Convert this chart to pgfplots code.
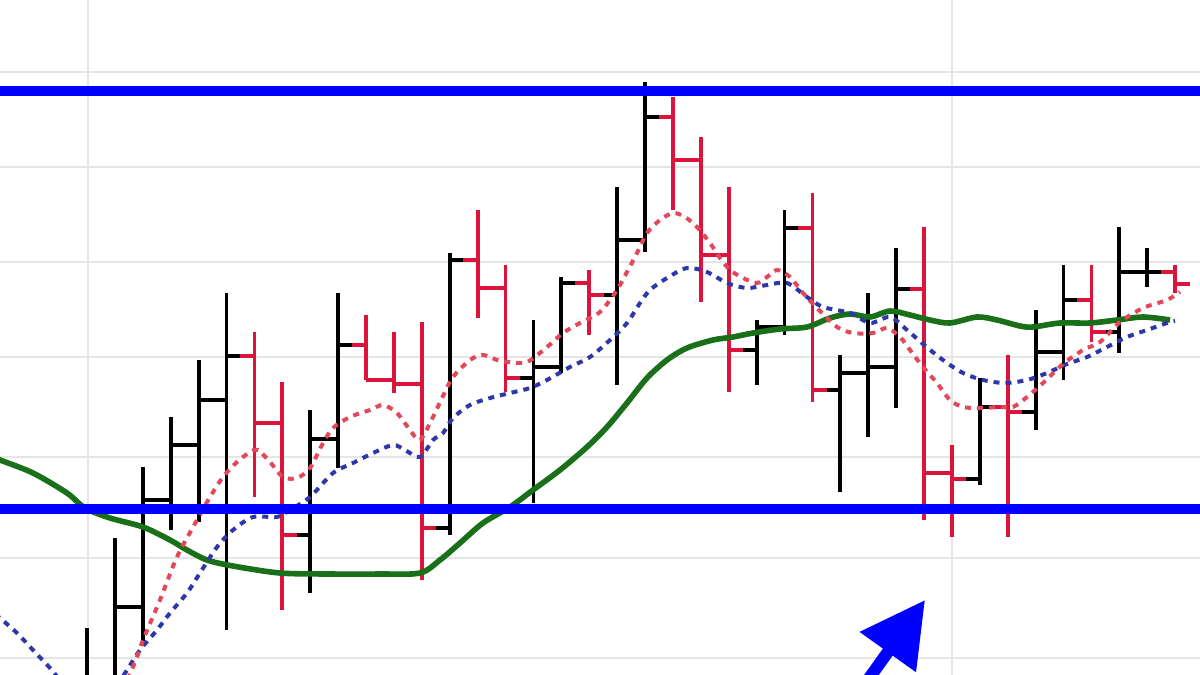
\documentclass[border=0pt]{standalone}
\usepackage{pgfplots}
\pgfplotsset{compat=1.18}
\usepackage{pgfplotstable}
\usetikzlibrary{arrows.meta}
\definecolor{barred}{RGB}{220,20,60}
\definecolor{mared}{RGB}{228,70,90}
\definecolor{mablue}{RGB}{45,55,170}
\definecolor{magreen}{RGB}{25,112,25}
\definecolor{hblue}{RGB}{0,0,255}

% OHLC bars (x position, open, high, low, close); y axis runs downward
\pgfplotstableread{
x o h l c
87.0 700 628 720 690
114.9 700 538 720 607
142.8 607 467 642 500
170.7 500 417 530 445
198.6 445 360 522 400
226.5 400 293 630 356
310.2 535 410 593 439
338.1 439 293 468 345
449.7 528 253 535 260
533.4 378 320 503 367
561.3 367 277 373 283
617.1 295 187 385 240
645.0 240 82 252 117
756.6 350 320 385 327
784.5 327 210 335 228
840.3 390 355 492 373
868.2 373 293 437 367
896.1 367 248 408 289
979.8 479 378 485 407
1035.6 412 310 430 352
1063.5 352 265 380 300
1119.3 332 227 353 272
1147.2 272 248 287 272
}\upbars

\pgfplotstableread{
x o h l c
254.4 356 332 497 423
282.3 423 382 610 535
366.0 345 315 380 380
393.9 380 332 393 384
421.8 384 322 580 528
477.6 260 210 318 288
505.5 288 265 392 378
589.2 283 270 335 295
672.9 117 97 210 160
700.8 160 137 302 255
728.7 255 187 392 350
812.4 228 193 402 390
924.0 289 227 520 473
951.9 473 445 537 479
1007.7 407 355 537 412
1091.4 300 265 342 332
1175.1 272 265 293 284
}\downbars

\begin{document}
\begin{tikzpicture}
\begin{axis}[
  scale only axis, width=600bp, height=337.5bp,
  xmin=0, xmax=1200, ymin=0, ymax=675, y dir=reverse,
  axis line style={draw=none},
  xtick={88,952}, ytick={72,167,262,357,457,558,658},
  xticklabels={}, yticklabels={},
  major tick length=0pt,
  grid=major, grid style={line width=1.4bp, color=black!10},
]
% black (up) bars
\addplot[black, line width=1.9bp, quiver={u=0, v=\thisrow{l}-\thisrow{h}}] table[x=x, y=h] {\upbars};
\addplot[black, line width=1.9bp, quiver={u=14.4, v=0}] table[x expr=\thisrow{x}-14.4, y=o] {\upbars};
\addplot[black, line width=1.9bp, quiver={u=14.4, v=0}] table[x=x, y=c] {\upbars};
% red (down) bars
\addplot[barred, line width=1.9bp, quiver={u=0, v=\thisrow{l}-\thisrow{h}}] table[x=x, y=h] {\downbars};
\addplot[barred, line width=1.9bp, quiver={u=14.4, v=0}] table[x expr=\thisrow{x}-14.4, y=o] {\downbars};
\addplot[barred, line width=1.9bp, quiver={u=14.4, v=0}] table[x=x, y=c] {\downbars};

% long moving average (green)
\addplot[magreen, line width=2.8bp, smooth, tension=0.5] coordinates {
(-5,458) (0,460) (33,473) (67,493) (85,508) (110,518) (143,527) (170,540) (187,550)
(207,560) (233,566) (280,573) (330,574) (380,574) (420,573) (440,560) (460,543)
(483,523) (510,507) (533,490) (560,470) (587,447) (607,427) (627,403) (647,378)
(667,360) (687,348) (713,340) (733,337) (753,333) (780,329) (807,327) (830,318)
(850,314) (870,317) (890,311) (910,315) (930,320) (950,323) (977,317) (997,320)
(1020,326) (1033,327) (1060,323) (1090,323) (1117,320) (1143,317) (1170,320)};

% medium moving average (blue dotted)
\addplot[mablue, line width=2bp, dash pattern=on 3bp off 3bp, smooth, tension=0.5] coordinates {
(-5,614) (0,618) (17,633) (33,650) (50,668) (60,680) (90,715) (120,680) (127,670)
(140,650) (157,630) (170,613) (187,593) (200,573) (217,547) (233,530) (253,517)
(277,517) (290,510) (310,497) (333,473) (353,463) (373,453) (393,445) (405,450)
(420,457) (433,440) (443,433) (453,418) (470,405) (490,398) (510,393) (530,388)
(547,380) (570,367) (590,357) (610,340) (627,323) (640,303) (650,290) (667,278)
(687,268) (707,272) (727,283) (747,288) (767,285) (787,283) (807,297) (823,307)
(850,313) (870,323) (890,317) (907,330) (923,344) (943,360) (963,373) (983,380)
(1005,383) (1027,380) (1047,373) (1067,364) (1087,357) (1107,347) (1127,337)
(1147,330) (1167,323) (1175,321)};

% short moving average (red dotted)
\addplot[mared, line width=2bp, dash pattern=on 3bp off 3bp, smooth, tension=0.5] coordinates {
(115,700) (128,678) (137,657) (143,640) (160,600) (177,557) (197,520) (210,497)
(223,477) (237,462) (250,452) (258,450) (270,462) (283,477) (297,478) (310,468)
(322,445) (333,428) (350,417) (370,410) (383,405) (397,413) (410,430) (420,440)
(433,417) (443,396) (453,377) (470,360) (483,355) (497,360) (508,362) (527,362)
(547,347) (563,333) (580,323) (600,312) (617,290) (627,272) (637,253) (647,233)
(660,220) (673,213) (685,217) (697,227) (710,243) (720,258) (730,270) (743,278)
(757,283) (767,277) (777,270) (790,277) (803,293) (817,308) (837,327) (853,333)
(873,333) (887,328) (900,337) (910,350) (923,367) (937,383) (950,400) (963,407)
(980,408) (1000,407) (1013,407) (1027,397) (1043,383) (1063,364) (1083,350)
(1100,342) (1120,322) (1143,308) (1167,300) (1180,292)};

% resistance and support lines
\addplot[hblue, line width=4.8bp] coordinates {(-10,91) (1210,91)};
\addplot[hblue, line width=4.8bp] coordinates {(-10,509) (1210,509)};

% arrow
\addplot[hblue, line width=6bp, -{Triangle[length=32bp,width=33bp]}] coordinates {(850,705) (925,600)};
\end{axis}
\pgfresetboundingbox
\path[use as bounding box] (current axis.south west) rectangle (current axis.north east);
\end{tikzpicture}
\end{document}
